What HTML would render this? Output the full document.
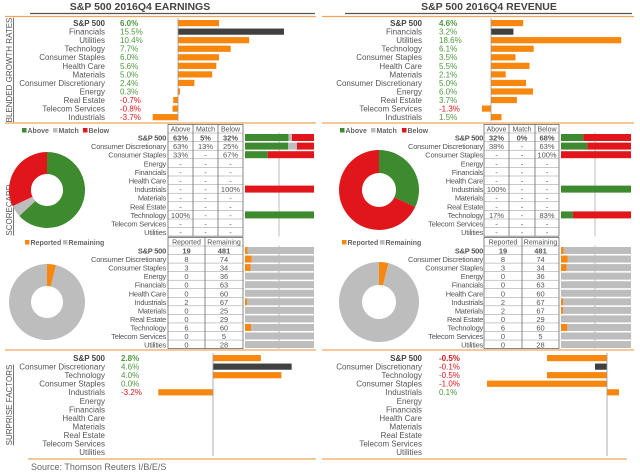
<!DOCTYPE html>
<html><head><meta charset="utf-8"><style>
html,body{margin:0;padding:0;background:#fff;}
svg{display:block;font-family:"Liberation Sans",sans-serif;}
</style></head><body>
<svg id="c" width="640" height="476" viewBox="0 0 640 476" xmlns="http://www.w3.org/2000/svg">
<text x="140" y="10" text-anchor="middle" font-size="10.5" font-weight="bold" fill="#444">S&amp;P 500 2016Q4 EARNINGS</text>
<text x="489" y="10" text-anchor="middle" font-size="10.5" font-weight="bold" fill="#444">S&amp;P 500 2016Q4 REVENUE</text>
<line x1="30" y1="13.5" x2="315" y2="13.5" stroke="#555" stroke-width="1.2"/>
<line x1="345" y1="13.5" x2="632" y2="13.5" stroke="#555" stroke-width="1.2"/>
<g stroke="#F5A35A" stroke-width="1.2">
<line x1="5" y1="16.5" x2="316" y2="16.5"/><line x1="322" y1="16.5" x2="634" y2="16.5"/>
<line x1="5" y1="123" x2="316" y2="123"/><line x1="322" y1="123" x2="634" y2="123"/>
<line x1="5" y1="350" x2="316" y2="350"/><line x1="322" y1="350" x2="634" y2="350"/>
<line x1="28" y1="459" x2="316" y2="459"/><line x1="322" y1="459" x2="627" y2="459"/>
</g>
<text transform="translate(12,70) rotate(-90)" text-anchor="middle" font-size="8" fill="#555" text-decoration="underline">BLENDED GROWTH RATES</text>
<text transform="translate(12,210) rotate(-90)" text-anchor="middle" font-size="8" fill="#555" text-decoration="underline">SCORECARD</text>
<text transform="translate(12,405) rotate(-90)" text-anchor="middle" font-size="8" fill="#555" text-decoration="underline">SURPRISE FACTORS</text>
<text x="31" y="470" font-size="9" fill="#666">Source: Thomson Reuters I/B/E/S</text>
<g id="g"></g>
</svg>
<script>
const growthSectors=["S&P 500","Financials","Utilities","Technology","Consumer Staples","Health Care","Materials","Consumer Discretionary","Energy","Real Estate","Telecom Services","Industrials"];
const growthE=[6.0,15.5,10.4,7.7,6.0,5.6,5.0,2.4,0.3,-0.7,-0.8,-3.7];
const growthR=[4.6,3.2,18.6,6.1,3.5,5.5,2.1,5.0,6.0,3.7,-1.3,1.5];
const scoreSectors=["S&P 500","Consumer Discretionary","Consumer Staples","Energy","Financials","Health Care","Industrials","Materials","Real Estate","Technology","Telecom Services","Utilities"];
const aboveE=[63,63,33,null,null,null,null,null,null,100,null,null];
const matchE=[5,13,null,null,null,null,null,null,null,null,null,null];
const belowE=[32,25,67,null,null,null,100,null,null,null,null,null];
const aboveR=[32,38,null,null,null,null,100,null,null,17,null,null];
const matchR=[0,null,null,null,null,null,null,null,null,null,null,null];
const belowR=[68,63,100,null,null,null,null,null,null,83,null,null];
const reportedE=[19,8,3,0,0,0,2,0,0,6,0,0];
const remainingE=[481,74,34,36,63,60,67,25,29,60,5,28];
const reportedR=[19,8,3,0,0,0,2,2,0,6,0,0];
const remainingR=[481,74,34,36,63,60,67,67,29,60,5,28];
const surpriseSectors=["S&P 500","Consumer Discretionary","Technology","Consumer Staples","Industrials","Energy","Financials","Health Care","Materials","Real Estate","Telecom Services","Utilities"];
const surpriseE=[2.8,4.6,4.0,0.0,-3.2,null,null,null,null,null,null,null];
const surpriseR=[-0.5,-0.1,-0.5,-1.0,0.1,null,null,null,null,null,null,null];

const NS="http://www.w3.org/2000/svg";const G=document.getElementById('g');
const OR="#F7870F",DK="#404040",GR="#3E8A2E",RD="#E0161B",GY="#BDBDBD";
function el(t,a,p){const e=document.createElementNS(NS,t);for(const k in a)e.setAttribute(k,a[k]);(p||G).appendChild(e);return e;}
function txt(x,y,s,a){const e=el('text',Object.assign({x:x,y:y,'font-size':8,fill:'#555'},a||{}));e.textContent=s;return e;}
function fmt(v){return (v<0?'-':'')+Math.abs(v).toFixed(1)+'%';}

function growth(sectors,vals,labX,valX,zero,scale,y0,dy,name){
  sectors.forEach((s,i)=>{
    const y=y0+i*dy;
    const l=txt(labX,y+3,s,{'text-anchor':'end','font-weight':i==0?'bold':'normal',fill:i==0?'#444':'#555'});
    
    
    const v=vals[i];
    if(v==null)return;
    const t=txt(valX,y+3,fmt(v),{fill:v<0?RD:'#4E9A3E','font-weight':i==0?'bold':'normal'});
    
    
    const x1=zero+Math.min(0,v)*scale,w=Math.abs(v)*scale;
    const b=el('rect',{x:x1,y:y-3,width:Math.max(w,0.01),height:6.2,fill:i==1?DK:OR});
    
    
  });
}
growth(growthSectors,growthE,105,120,178,6.84,23,8.55,'growth-e');
el('line',{x1:178,y1:18,x2:178,y2:121,stroke:'#999','stroke-width':0.8});
growth(growthSectors,growthR,422,439,491,7.0,23,8.55,'growth-r');
el('line',{x1:491,y1:18,x2:491,y2:121,stroke:'#999','stroke-width':0.8});
growth(surpriseSectors,surpriseE,105,121,213,17.1,358,8.55,'surprise-e');
el('line',{x1:213,y1:353,x2:213,y2:456,stroke:'#999','stroke-width':0.8});
growth(surpriseSectors,surpriseR,422,439,607,120,358,8.55,'surprise-r');
el('line',{x1:607,y1:353,x2:607,y2:456,stroke:'#999','stroke-width':0.8});

function donut(cx,cy,ro,ri,vals,cols,name){
  const tot=vals.reduce((a,b)=>a+b,0);let a0=-Math.PI/2;
  vals.forEach((v,i)=>{
    if(!v)return;const a1=a0+v/tot*2*Math.PI;const lg=(a1-a0)>Math.PI?1:0;
    const p=(r,a)=>(cx+r*Math.cos(a)).toFixed(2)+' '+(cy+r*Math.sin(a)).toFixed(2);
    const d='M'+p(ro,a0)+' A'+ro+' '+ro+' 0 '+lg+' 1 '+p(ro,a1)+' L'+p(ri,a1)+' A'+ri+' '+ri+' 0 '+lg+' 0 '+p(ri,a0)+'Z';
    const s=el('path',{d:d,fill:cols[i]});
    
    
    a0=a1;
  });
}
function legend(x,y,items){
  items.forEach(it=>{el('rect',{x:x,y:y-5,width:4.5,height:4.5,fill:it[1]});const t=txt(x+5.5,y,it[0],{'font-size':7,'font-weight':'bold',fill:'#666'});
  
  
  x+=it[2];});
}
function scoreTable(labX,cols,y0,dy,head,colsData,bold){
  const top=y0-4.5-dy, bottom=y0-4.5+scoreSectors.length*dy;
  head.forEach((h,j)=>{const t=txt((cols[j]+cols[j+1])/2,top+7,h,{'text-anchor':'middle','font-size':7});
    
    });
  el('rect',{x:cols[0],y:top,width:cols[cols.length-1]-cols[0],height:bottom-top,fill:'none',stroke:'#555','stroke-width':0.7});
  cols.slice(1,-1).forEach(c=>el('line',{x1:c,y1:top,x2:c,y2:bottom,stroke:'#555','stroke-width':0.7}));
  for(let i=0;i<=scoreSectors.length;i++)el('line',{x1:cols[0],y1:y0-4.5+i*dy,x2:cols[cols.length-1],y2:y0-4.5+i*dy,stroke:'#777','stroke-width':0.4});
  scoreSectors.forEach((s,i)=>{const y=y0+i*dy;
    const l=txt(labX,y+3,s,{'text-anchor':'end','font-size':7.5,'letter-spacing':-0.25,'font-weight':i==0?'bold':'normal'});
    
    
    colsData.forEach((arr,j)=>{const v=arr[i];const str=v==null?'-':(bold?v+'%':String(v));
      const t=txt((cols[j]+cols[j+1])/2,y+3,str,{'text-anchor':'middle','font-size':7.5,'font-weight':i==0?'bold':'normal'});
      
      });
  });
}
function stackBars(x,w,y0,dy,series,colors,mid){
  el('line',{x1:mid,y1:y0-5,x2:mid,y2:y0+11.5*dy,stroke:'#aaa','stroke-width':0.8});
  scoreSectors.forEach((s,i)=>{const y=y0+i*dy;let tot=0;series.forEach(a=>tot+=a[i]||0);if(!tot)return;let cx=x;
    series.forEach((a,j)=>{const v=a[i]||0;if(!v)return;const bw=v/tot*w;
      const b=el('rect',{x:cx,y:y-3.5,width:bw,height:7,fill:colors[j]});
      
      
      cx+=bw;});
  });
}
legend(22,133,[["Above",GR,31],["Match",GY,30],["Below",RD,30]]);
donut(47,190,38,16,[aboveE[0],matchE[0],belowE[0]],[GR,GY,RD],'earnings-beat-donut');
scoreTable(166,[168,193,218,243],137.5,8.6,["Above","Match","Below"],[aboveE,matchE,belowE],true);
stackBars(245,69,137.5,8.6,[aboveE,matchE,belowE],[GR,GY,RD],279);
legend(340,133,[["Above",GR,31],["Match",GY,31],["Below",RD,30]]);
donut(379,190,40,17,[aboveR[0],matchR[0],belowR[0]],[GR,GY,RD],'revenue-beat-donut');
scoreTable(483,[484,509,535,559],137.5,8.6,["Above","Match","Below"],[aboveR,matchR,belowR],true);
stackBars(561,70,137.5,8.6,[aboveR,matchR,belowR],[GR,GY,RD],595);
legend(25,245,[["Reported",OR,38],["Remaining",GY,40]]);
donut(47,302,38,16,[reportedE[0],remainingE[0]],[OR,GY],'earnings-reported-donut');
scoreTable(166,[168,205,243],250.5,8.55,["Reported","Remaining"],[reportedE,remainingE],false);
stackBars(245,69,250.5,8.55,[reportedE,remainingE],[OR,GY],279);
legend(342,245,[["Reported",OR,38],["Remaining",GY,40]]);
donut(379,302,40,17,[reportedR[0],remainingR[0]],[OR,GY],'revenue-reported-donut');
scoreTable(483,[484,522,559],250.5,8.55,["Reported","Remaining"],[reportedR,remainingR],false);
stackBars(561,70,250.5,8.55,[reportedR,remainingR],[OR,GY],595);
</script>
</body></html>
